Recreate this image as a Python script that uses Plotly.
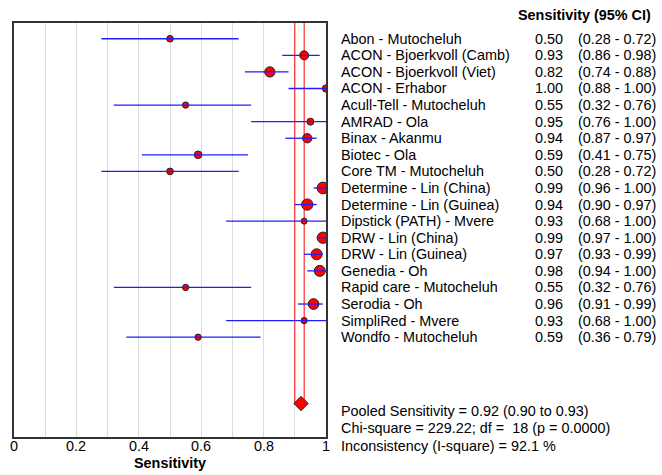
import plotly.graph_objects as go

studies = ["Abon - Mutocheluh", "ACON - Bjoerkvoll (Camb)", "ACON - Bjoerkvoll (Viet)",
           "ACON - Erhabor", "Acull-Tell - Mutocheluh", "AMRAD - Ola", "Binax - Akanmu",
           "Biotec - Ola", "Core TM - Mutocheluh", "Determine - Lin (China)",
           "Determine - Lin (Guinea)", "Dipstick (PATH) - Mvere", "DRW - Lin (China)",
           "DRW - Lin (Guinea)", "Genedia - Oh", "Rapid care - Mutocheluh", "Serodia - Oh",
           "SimpliRed - Mvere", "Wondfo - Mutocheluh"]
sens = [0.50, 0.93, 0.82, 1.00, 0.55, 0.95, 0.94, 0.59, 0.50, 0.99, 0.94, 0.93, 0.99, 0.97,
        0.98, 0.55, 0.96, 0.93, 0.59]
ci_low = [0.28, 0.86, 0.74, 0.88, 0.32, 0.76, 0.87, 0.41, 0.28, 0.96, 0.90, 0.68, 0.97, 0.93,
          0.94, 0.32, 0.91, 0.68, 0.36]
ci_high = [0.72, 0.98, 0.88, 1.00, 0.76, 1.00, 0.97, 0.75, 0.72, 1.00, 0.97, 1.00, 1.00, 0.99,
           1.00, 0.76, 0.99, 1.00, 0.79]
weights = [6.7, 9.0, 10.3, 7.3, 6.3, 7.0, 9.3, 7.7, 6.7, 11.7, 11.3, 6.0, 11.3, 11.0, 11.0,
           6.3, 10.7, 6.3, 6.3]
pooled = 0.92
pooled_low = 0.90
pooled_high = 0.93
chi_square = 229.22
df = 18
p_value = 0.0000
i_square = 92.1
tick_vals = [0, 0.2, 0.4, 0.6, 0.8, 1]
tick_text = ["0", "0.2", "0.4", "0.6", "0.8", "1"]

FONT = "Liberation Sans, Arial, sans-serif"
FS = 14.4
n = len(studies)
rows = list(range(n))
pooled_row = 22.0
y_top = -0.95
y_bottom = 24.02

W, H = 662, 475
ml, mr, mt, mb = 14, 336, 23, 38
pw = W - ml - mr
ph = H - mt - mb


def px2paper(px):
    return (px - ml) / pw


def py2paper(py):
    return (H - mb - py) / ph


fig = go.Figure()

# pooled CI reference lines (drawn first, below markers)
for v in (pooled_low, pooled_high):
    fig.add_trace(go.Scatter(x=[v, v], y=[y_top, pooled_row], mode="lines",
                             line=dict(color="rgb(255,0,0)", width=1),
                             hoverinfo="skip", showlegend=False))

# study markers
fig.add_trace(go.Scatter(x=sens, y=rows, mode="markers",
                         marker=dict(symbol="circle", size=weights, color="red", opacity=1,
                                     line=dict(color="#222", width=1)),
                         showlegend=False))

# CI lines
cx, cy = [], []
for i in rows:
    cx += [ci_low[i], ci_high[i], None]
    cy += [i, i, None]
fig.add_trace(go.Scatter(x=cx, y=cy, mode="lines",
                         line=dict(color="rgb(30,30,255)", width=1.3),
                         hoverinfo="skip", showlegend=False))

# pooled diamond
fig.add_trace(go.Scatter(x=[pooled], y=[pooled_row], mode="markers",
                         marker=dict(symbol="diamond", size=11, color="red", opacity=1,
                                     line=dict(color="#222", width=1)),
                         showlegend=False))

ann = []
f = dict(family=FONT, size=FS, color="black")
for i in rows:
    ann.append(dict(x=px2paper(339), y=i, xref="paper", yref="y", text=studies[i],
                    showarrow=False, xanchor="left", yanchor="middle", font=f))
    ann.append(dict(x=px2paper(532.5), y=i, xref="paper", yref="y", text=f"{sens[i]:.2f}",
                    showarrow=False, xanchor="left", yanchor="middle", font=f))
    ann.append(dict(x=px2paper(575.5), y=i, xref="paper", yref="y",
                    text=f"({ci_low[i]:.2f} - {ci_high[i]:.2f})",
                    showarrow=False, xanchor="left", yanchor="middle", font=f))

ann.append(dict(x=px2paper(516), y=py2paper(15), xref="paper", yref="paper",
                text="<b>Sensitivity (95% CI)</b>", showarrow=False, xanchor="left",
                yanchor="middle", font=dict(family=FONT, size=FS, color="black")))

footer = [
    f"Pooled Sensitivity = {pooled:.2f} ({pooled_low:.2f} to {pooled_high:.2f})",
    f"Chi-square = {chi_square:.2f}; df =\u00a0\u00a0{df} (p = {p_value:.4f})",
    f"Inconsistency (I-square) = {i_square:.1f} %",
]
for t, py in zip(footer, [411, 428, 446]):
    ann.append(dict(x=px2paper(339), y=py2paper(py), xref="paper", yref="paper", text=t,
                    showarrow=False, xanchor="left", yanchor="middle", font=f))

for tv, tt in zip(tick_vals, tick_text):
    ann.append(dict(x=tv, y=py2paper(446), xref="x", yref="paper", text=tt,
                    showarrow=False, xanchor="center", yanchor="middle", font=f))

ann.append(dict(x=0.5, y=py2paper(463), xref="paper", yref="paper", text="<b>Sensitivity</b>",
                showarrow=False, xanchor="center", yanchor="middle",
                font=dict(family=FONT, size=FS, color="black")))

fig.update_layout(
    width=W, height=H,
    margin=dict(l=ml, r=mr, t=mt, b=mb),
    paper_bgcolor="white", plot_bgcolor="white",
    font=dict(family=FONT, size=FS, color="black"),
    annotations=ann,
    xaxis=dict(range=[0, 1], tickvals=tick_vals, showticklabels=False,
               showgrid=True, gridcolor="#dcdcdc", gridwidth=1,
               minor=dict(dtick=0.1, showgrid=True, gridcolor="#dcdcdc", gridwidth=1),
               showline=True, linecolor="#333", linewidth=1.5, mirror=True,
               ticks="", zeroline=False),
    yaxis=dict(range=[y_bottom, y_top], showgrid=False, showticklabels=False,
               showline=True, linecolor="#333", linewidth=1.5, mirror=True,
               ticks="", zeroline=False),
)

fig.write_html("out.html")
